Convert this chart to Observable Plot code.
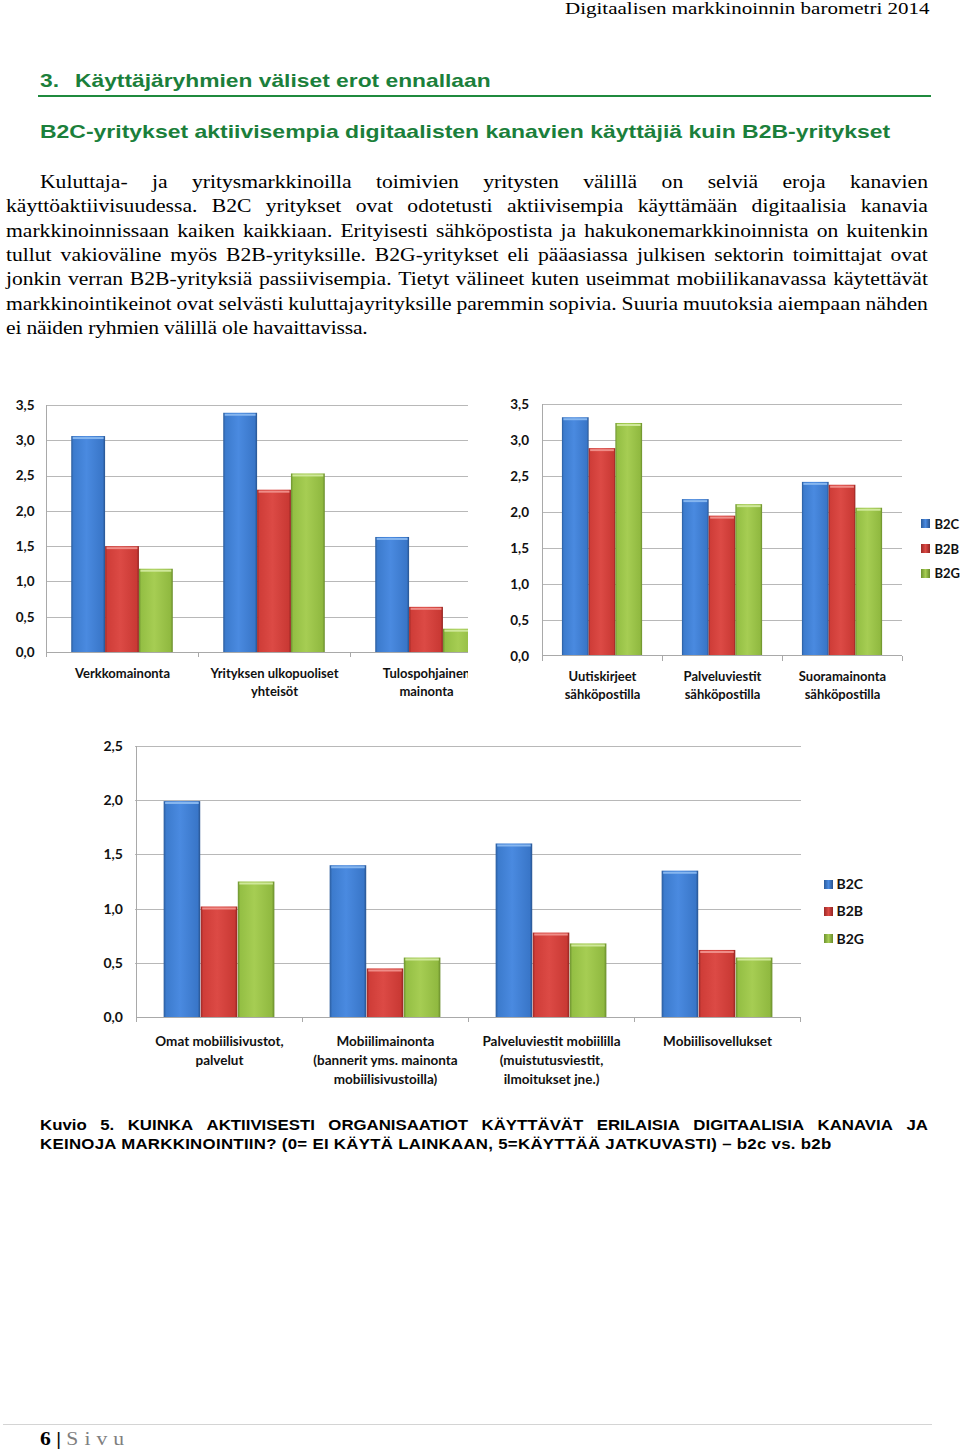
<!DOCTYPE html>
<html><head><meta charset="utf-8">
<script src="https://cdn.jsdelivr.net/npm/d3@7"></script>
<script src="https://cdn.jsdelivr.net/npm/@observablehq/plot@0.6"></script>
<style>
body{margin:0;background:#fff;}
#page{position:relative;width:960px;height:1453px;overflow:hidden;background:#fff;}
.abs{position:absolute;white-space:nowrap;}
.sx{transform:scaleX(1.2);transform-origin:0 0;}
.serif{font-family:"Liberation Serif","Times New Roman",serif;color:#000;font-size:18px;line-height:24.3px;}
.sans{font-family:"Liberation Sans",Arial,sans-serif;font-weight:bold;}
.green{color:#1b7f3b;}
.jl{display:flex;justify-content:space-between;}
.chart{position:absolute;overflow:hidden;}
.chart svg{max-width:none;}
.leg{position:absolute;font-family:Lato,"Open Sans",sans-serif;font-weight:bold;color:#111;white-space:nowrap;}
.sq{position:absolute;width:9px;height:9px;}
</style>
</head><body>
<svg width="0" height="0" style="position:absolute">
<defs>
<linearGradient id="gB2C" x1="0" x2="1" y1="0" y2="0">
<stop offset="0" stop-color="#2b5c9c"/><stop offset="0.07" stop-color="#3c7bcd"/><stop offset="0.45" stop-color="#4a8ae0"/><stop offset="0.93" stop-color="#3976c8"/><stop offset="1" stop-color="#28538e"/>
</linearGradient>
<linearGradient id="gB2B" x1="0" x2="1" y1="0" y2="0">
<stop offset="0" stop-color="#9c2926"/><stop offset="0.07" stop-color="#cf3d38"/><stop offset="0.45" stop-color="#dc4a45"/><stop offset="0.93" stop-color="#c93934"/><stop offset="1" stop-color="#922421"/>
</linearGradient>
<linearGradient id="gB2G" x1="0" x2="1" y1="0" y2="0">
<stop offset="0" stop-color="#6d9230"/><stop offset="0.07" stop-color="#94bf44"/><stop offset="0.45" stop-color="#a6cd53"/><stop offset="0.93" stop-color="#90b940"/><stop offset="1" stop-color="#688b2b"/>
</linearGradient>
</defs>
</svg>
<div id="page"></div>
<script>
// ---------- data ----------
const series = ["B2C", "B2B", "B2G"];

const groupsAds = ["Verkkomainonta", "Yrityksen ulkopuoliset\nyhteisöt", "Tulospohjainen\nmainonta"];
const adsB2C = [3.06, 3.39, 1.63];
const adsB2B = [1.50, 2.30, 0.64];
const adsB2G = [1.18, 2.53, 0.33];

const groupsEmail = ["Uutiskirjeet\nsähköpostilla", "Palveluviestit\nsähköpostilla", "Suoramainonta\nsähköpostilla"];
const emailB2C = [3.32, 2.18, 2.42];
const emailB2B = [2.89, 1.95, 2.38];
const emailB2G = [3.24, 2.11, 2.06];

const groupsMobile = ["Omat mobiilisivustot,\npalvelut", "Mobiilimainonta\n(bannerit yms. mainonta\nmobiilisivustoilla)", "Palveluviestit mobiililla\n(muistutusviestit,\nilmoitukset jne.)", "Mobiilisovellukset"];
const mobileB2C = [1.99, 1.40, 1.60, 1.35];
const mobileB2B = [1.02, 0.45, 0.78, 0.62];
const mobileB2G = [1.25, 0.55, 0.68, 0.55];

const ticks35 = [0, 0.5, 1, 1.5, 2, 2.5, 3, 3.5];
const ticks25 = [0, 0.5, 1, 1.5, 2, 2.5];

const headerText = "Digitaalisen markkinoinnin barometri 2014";
const headingNum = "3.";
const headingText = "Käyttäjäryhmien väliset erot ennallaan";
const subheadingText = "B2C-yritykset aktiivisempia digitaalisten kanavien käyttäjiä kuin B2B-yritykset";
const paragraphLines = [
  "Kuluttaja- ja yritysmarkkinoilla toimivien yritysten välillä on selviä eroja kanavien",
  "käyttöaktiivisuudessa. B2C yritykset ovat odotetusti aktiivisempia käyttämään digitaalisia kanavia",
  "markkinoinnissaan kaiken kaikkiaan. Erityisesti sähköpostista ja hakukonemarkkinoinnista on kuitenkin",
  "tullut vakioväline myös B2B-yrityksille. B2G-yritykset eli pääasiassa julkisen sektorin toimittajat ovat",
  "jonkin verran B2B-yrityksiä passiivisempia. Tietyt välineet kuten useimmat mobiilikanavassa käytettävät",
  "markkinointikeinot ovat selvästi kuluttajayrityksille paremmin sopivia. Suuria muutoksia aiempaan nähden",
  "ei näiden ryhmien välillä ole havaittavissa."
];
const captionLines = [
  "Kuvio 5. KUINKA AKTIIVISESTI ORGANISAATIOT KÄYTTÄVÄT ERILAISIA DIGITAALISIA KANAVIA JA",
  "KEINOJA MARKKINOINTIIN? (0= EI KÄYTÄ LAINKAAN, 5=KÄYTTÄÄ JATKUVASTI) – b2c vs. b2b"
];
const pageNum = "6";
const pageWord = "Sivu";

// ---------- helpers ----------
const page = document.getElementById("page");
function el(tag, cls, style, text) {
  const e = document.createElement(tag);
  if (cls) e.className = cls;
  if (style) e.setAttribute("style", style);
  if (text != null) e.textContent = text;
  return e;
}
function justifiedLine(text, cls, style) {
  const d = el("div", cls + " jl", style);
  text.split(" ").forEach(w => d.appendChild(el("span", null, null, w)));
  return d;
}
const fmt = d => d.toFixed(1).replace(".", ",");
const NS = "http://www.w3.org/2000/svg";
const lightTop = {B2C: "#86b6ef", B2B: "#ef8d88", B2G: "#cfe89a"};

function axisLines(groups, yMax) {
  return (index, scales) => {
    const {x, y} = scales;
    const g = document.createElementNS(NS, "g");
    g.setAttribute("stroke", "#a9a9a9");
    g.setAttribute("stroke-width", "1");
    g.setAttribute("shape-rendering", "crispEdges");
    const add = (x1, y1, x2, y2) => {
      const l = document.createElementNS(NS, "line");
      l.setAttribute("x1", x1); l.setAttribute("y1", y1);
      l.setAttribute("x2", x2); l.setAttribute("y2", y2);
      g.appendChild(l);
    };
    const bw = x.bandwidth();
    const y0 = y(0);
    const xs = groups.map(d => x(d));
    xs.push(xs[xs.length - 1] + bw);
    add(xs[0], y(yMax), xs[0], y0);
    add(xs[0], y0, xs[xs.length - 1], y0);
    xs.forEach(v => add(v, y0, v, y0 + 5));
    return g;
  };
}

function groupedChart({groups, vals, yMax, yTicks, width, height, ml, mr, mt, mb, fontSize, tickFont, lineHeight, labelPad, yPad}) {
  const data = groups.flatMap((g, i) => series.map((s, j) => ({group: g, series: s, value: vals[j][i]})));
  const B = (width - ml - mr) / groups.length;
  const outer = 0.166, frac = 0.2227;
  const barMarks = series.flatMap((s, j) => {
    const opts = {
      filter: d => d.series === s,
      x: "group", y: "value",
      insetLeft: B * (outer + j * frac),
      insetRight: B * (1 - outer - (j + 1) * frac)
    };
    return [
      Plot.barY(data, {...opts, fill: `url(#g${s})`}),
      Plot.tickY(data, {...opts, stroke: lightTop[s], strokeWidth: 2, dy: 1.5, insetLeft: opts.insetLeft + 1.5, insetRight: opts.insetRight + 1.5})
    ];
  });
  return Plot.plot({
    width, height,
    marginLeft: ml, marginRight: mr, marginTop: mt, marginBottom: mb,
    x: {domain: groups, padding: 0, label: null},
    y: {domain: [0, yMax], label: null},
    style: {fontFamily: "Lato, 'Open Sans', sans-serif", fontWeight: "bold", fontSize: fontSize + "px", color: "#111", background: "transparent", maxWidth: "none"},
    marks: [
      Plot.ruleY(yTicks.filter(t => t > 0), {y: d => d, stroke: "#b8b8b8", strokeWidth: 1, shapeRendering: "crispEdges"}),
      ...barMarks,
      axisLines(groups, yMax),
      Plot.axisY({ticks: yTicks, tickFormat: fmt, tickSize: 0, tickPadding: yPad, fontSize: tickFont, label: null}),
      Plot.axisX({tickSize: 0, tickPadding: labelPad, lineHeight, fontSize, label: null})
    ]
  });
}

// ---------- header texts ----------
page.appendChild(el("div", "abs sx serif", "left:565px;top:0px;font-size:17.5px;line-height:17px;", headerText));

const h = el("div", "abs sx sans green", "left:40px;top:68.7px;font-size:19px;line-height:24px;");
h.appendChild(el("span", null, "display:inline-block;width:29.2px;", headingNum));
h.appendChild(el("span", null, null, headingText));
page.appendChild(h);

page.appendChild(el("div", "abs", "left:38px;top:94.6px;width:893px;height:2.8px;background:#1f8a3d;"));

page.appendChild(el("div", "abs sx sans green", "left:40px;top:119.7px;font-size:19.15px;line-height:24px;", subheadingText));

// paragraph
paragraphLines.forEach((t, i) => {
  const top = 170.1 + 24.3 * i;
  if (i === 0) page.appendChild(justifiedLine(t, "abs sx serif", `left:40px;top:${top}px;width:740px;`));
  else if (i < paragraphLines.length - 1) page.appendChild(justifiedLine(t, "abs sx serif", `left:6px;top:${top}px;width:768.3px;`));
  else page.appendChild(el("div", "abs sx serif", `left:6px;top:${top}px;letter-spacing:-0.15px;`, t));
});

// ---------- charts ----------
function place(svg, left, top, w, h) {
  const d = el("div", "chart", `left:${left}px;top:${top}px;width:${w}px;height:${h}px;`);
  d.appendChild(svg);
  page.appendChild(d);
}

place(groupedChart({
  groups: groupsAds, vals: [adsB2C, adsB2B, adsB2G], yMax: 3.5, yTicks: ticks35,
  width: 510, height: 322, ml: 46, mr: 8, mt: 15, mb: 60,
  fontSize: 13, tickFont: 13.5, lineHeight: 1.38, labelPad: 13, yPad: 12
}), 0, 390, 468, 322);

place(groupedChart({
  groups: groupsEmail, vals: [emailB2C, emailB2B, emailB2G], yMax: 3.5, yTicks: ticks35,
  width: 480, height: 326, ml: 62, mr: 58, mt: 14.3, mb: 60.3,
  fontSize: 13, tickFont: 13.5, lineHeight: 1.38, labelPad: 12.5, yPad: 13.5
}), 480, 390, 480, 326);

place(groupedChart({
  groups: groupsMobile, vals: [mobileB2C, mobileB2B, mobileB2G], yMax: 2.5, yTicks: ticks25,
  width: 820, height: 357, ml: 135, mr: 19, mt: 15.7, mb: 69.7,
  fontSize: 13.5, tickFont: 14, lineHeight: 1.4, labelPad: 15, yPad: 12.5
}), 0, 730, 820, 357);

// legends
const gradCss = {
  B2C: "linear-gradient(to right,#2b5c9c,#4a8ae0 50%,#28538e)",
  B2B: "linear-gradient(to right,#9c2926,#dc4a45 50%,#922421)",
  B2G: "linear-gradient(to right,#6d9230,#a6cd53 50%,#688b2b)"
};
function legend(xSq, xText, ys, size) {
  series.forEach((s, i) => {
    page.appendChild(el("div", "sq", `left:${xSq}px;top:${ys[i] - 4.5}px;background:${gradCss[s]};`));
    page.appendChild(el("div", "leg", `left:${xText}px;top:${ys[i] - 10}px;font-size:${size}px;line-height:20px;`, s));
  });
}
legend(921, 934.5, [523.7, 548.5, 573.3], 13);
legend(824, 836.5, [884, 911.3, 938.7], 14);

// ---------- caption ----------
page.appendChild(justifiedLine(captionLines[0], "abs sx sans", "left:40px;top:1116.2px;width:740px;font-size:14px;line-height:19px;color:#000;"));
page.appendChild(el("div", "abs sx sans", "left:40px;top:1135.2px;font-size:14px;line-height:19px;color:#000;letter-spacing:0.25px;", captionLines[1]));

// ---------- footer ----------
page.appendChild(el("div", "abs", "left:3px;top:1423.5px;width:929px;height:1.5px;background:#d4d4d4;"));
const f = el("div", "abs sx serif", "left:40px;top:1428.5px;font-size:18px;line-height:20px;");
f.appendChild(el("span", null, "font-weight:bold;", pageNum + " | "));
f.appendChild(el("span", null, "color:#7f7f7f;letter-spacing:5px;", pageWord));
page.appendChild(f);
</script>
</body></html>
